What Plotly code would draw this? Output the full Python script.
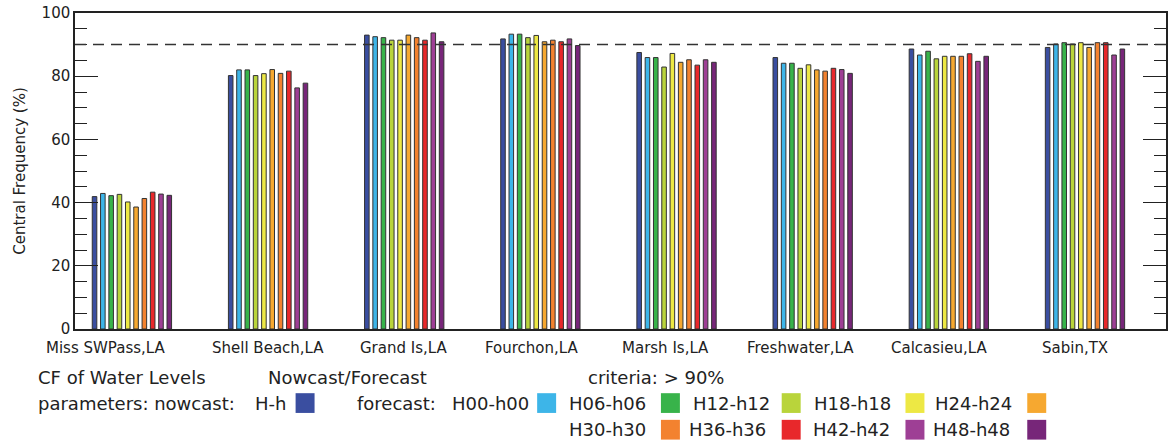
import plotly.graph_objects as go

W, H = 1172, 442
margin = go.layout.Margin(l=75, r=4, t=9, b=113, pad=0)

stations = ['Miss SWPass,LA', 'Shell Beach,LA', 'Grand Is,LA', 'Fourchon,LA',
            'Marsh Is,LA', 'Freshwater,LA', 'Calcasieu,LA', 'Sabin,TX']

series = ['H-h', 'H00-h00', 'H06-h06', 'H12-h12', 'H18-h18',
          'H24-h24', 'H30-h30', 'H36-h36', 'H42-h42', 'H48-h48']
colors = ['#3a4ea0', '#3db5e8', '#38b34a', '#b9d43b', '#ede844',
          '#f6a830', '#f3822f', '#e8282b', '#9e3f95', '#772679']

hh  = [41.9, 80.2, 93.0, 91.8, 87.5, 85.9, 88.6, 89.1]
h00 = [42.9, 82.0, 92.5, 93.3, 85.9, 84.1, 86.7, 90.2]
h06 = [42.2, 82.0, 92.2, 93.3, 85.9, 84.1, 87.9, 90.6]
h12 = [42.6, 80.2, 91.4, 92.2, 82.9, 82.5, 85.5, 90.2]
h18 = [40.2, 80.8, 91.4, 92.9, 87.2, 83.6, 86.3, 90.6]
h24 = [38.6, 82.1, 93.0, 90.9, 84.4, 82.0, 86.3, 89.1]
h30 = [41.3, 80.9, 92.2, 91.4, 85.2, 81.6, 86.3, 90.6]
h36 = [43.3, 81.6, 91.4, 90.9, 83.5, 82.5, 87.1, 90.6]
h42 = [42.7, 76.3, 93.7, 91.8, 85.2, 82.1, 84.7, 86.7]
h48 = [42.3, 77.8, 90.9, 89.7, 84.4, 80.9, 86.3, 88.6]
values = [hh, h00, h06, h12, h18, h24, h30, h36, h42, h48]

criteria = 90

FONT = 'DejaVu Sans'
TXT = '#222222'

# plot area in pixels
X0, X1, Y0, Y1 = 75, W - 4, 9, H - 113


def px(x):
    return (x - X0) / (X1 - X0)


def py(y):
    return (Y1 - y) / (Y1 - Y0)


xs = list(range(len(stations)))
data = [go.Bar(x=xs, y=v, name=s, marker_color=c,
               marker_line=dict(color='#333333', width=1))
        for s, v, c in zip(series, values, colors)]

fig = go.Figure(data=data)

# station labels (centres in px, as in the original)
label_px = [106, 268, 404, 533, 667, 802, 941, 1077]
annotations = [dict(x=px(x), y=py(348), xref='paper', yref='paper', text=t,
                    showarrow=False, xanchor='center', yanchor='middle',
                    font=dict(size=15, family=FONT, color=TXT))
               for t, x in zip(stations, label_px)]


def label(text, x, y, size=18):
    annotations.append(dict(x=px(x), y=py(y), xref='paper', yref='paper', text=text,
                            showarrow=False, xanchor='left', yanchor='middle',
                            font=dict(size=size, family=FONT, color=TXT)))


label('CF of Water Levels', 36, 378)
label('Nowcast/Forecast', 266, 378)
label('criteria: &gt; %d%%' % criteria, 587, 378)
label('parameters: nowcast:', 36, 404)
label('forecast:', 356, 404)

shapes = [dict(type='line', xref='paper', yref='y', x0=0, x1=1, y0=criteria, y1=criteria,
               line=dict(color='#333333', width=1.5, dash='11px,7px'), layer='above')]

# legend entries: label then colour box
legend_pos = [(253, 296, 404), (451, 538, 404), (568, 662, 404), (692, 783, 404),
              (813, 907, 404), (935, 1029, 404), (568, 662, 431), (688, 783, 431),
              (812, 907, 431), (933, 1029, 431)]
for s, c, (tx, bx, y) in zip(series, colors, legend_pos):
    label(s, tx, y)
    shapes.append(dict(type='rect', xref='paper', yref='paper',
                       x0=px(bx), x1=px(bx + 19), y0=py(y + 10), y1=py(y - 10),
                       fillcolor=c, line=dict(width=0)))

fig.update_layout(
    width=W, height=H, margin=margin,
    paper_bgcolor='white', plot_bgcolor='white',
    barmode='group', bargap=0.39, bargroupgap=0.45,
    showlegend=False,
    annotations=annotations, shapes=shapes,
    xaxis=dict(range=[-0.418, 7.595], showticklabels=False, ticks='',
               showgrid=False, zeroline=False, showline=True, linecolor='#222222',
               linewidth=1.5, mirror=True),
    yaxis=dict(range=[0, 100], tickvals=[0, 20, 40, 60, 80, 100], ticks='inside',
               ticklen=23, tickwidth=1.2, tickcolor='#222222', showgrid=False,
               zeroline=False, showline=True, linecolor='#222222', linewidth=1.5,
               mirror='ticks', tickfont=dict(size=15, family=FONT, color=TXT),
               title=dict(text='Central Frequency (%)', standoff=12,
                          font=dict(size=15, family=FONT, color=TXT)),
               minor=dict(dtick=5, ticks='inside', ticklen=12, tickwidth=1.2,
                          tickcolor='#222222', showgrid=False)),
)

# no page margin so the figure sits at the window's corner
fig.write_html('out.html', config={'displayModeBar': False},
               post_script="document.body.style.margin='0';")
